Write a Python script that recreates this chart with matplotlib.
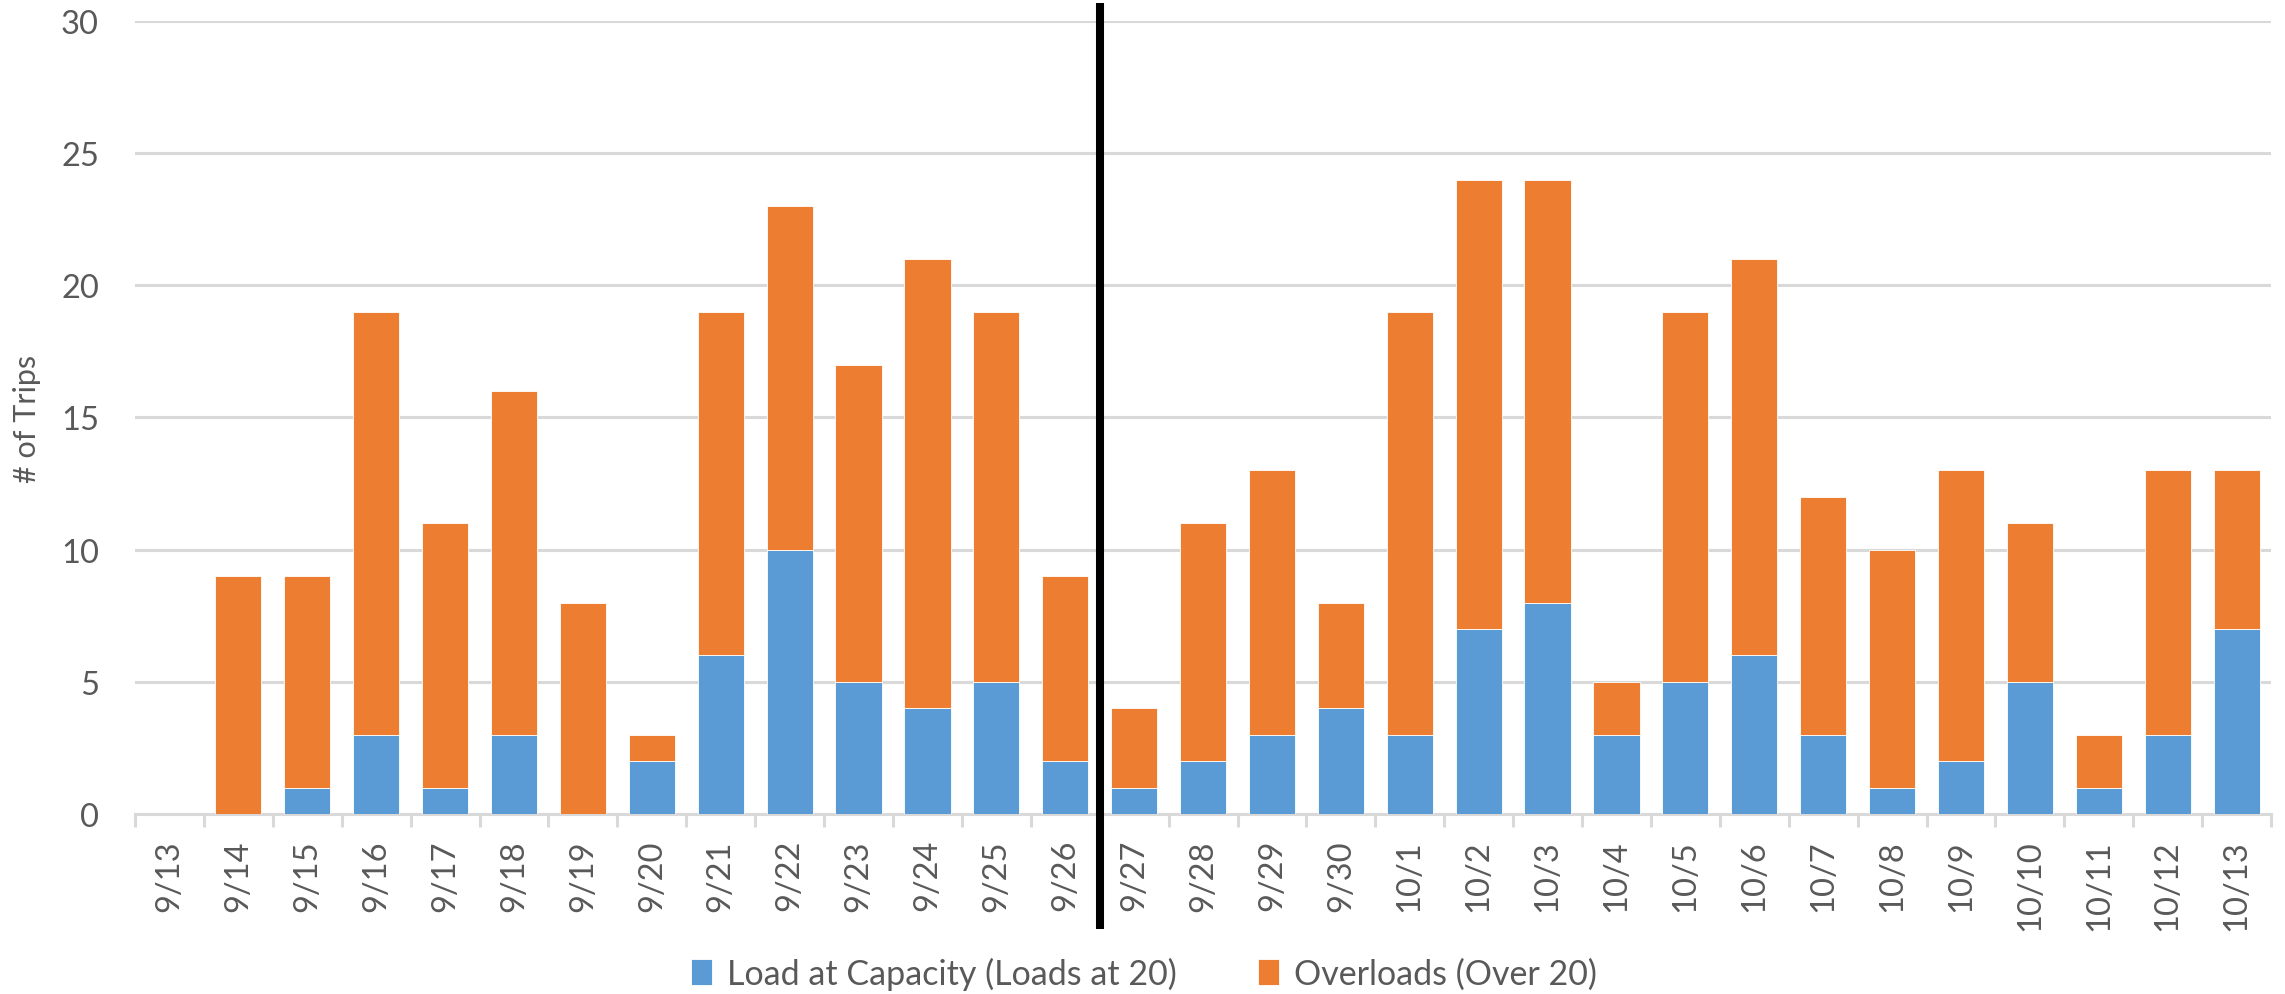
import matplotlib
matplotlib.use("Agg")
import matplotlib.pyplot as plt
from matplotlib.lines import Line2D
from matplotlib.transforms import blended_transform_factory
import numpy as np

plt.rcParams['font.family'] = ['Lato', 'DejaVu Sans']

dates = ["9/13", "9/14", "9/15", "9/16", "9/17", "9/18", "9/19", "9/20", "9/21",
         "9/22", "9/23", "9/24", "9/25", "9/26", "9/27", "9/28", "9/29", "9/30",
         "10/1", "10/2", "10/3", "10/4", "10/5", "10/6", "10/7", "10/8", "10/9",
         "10/10", "10/11", "10/12", "10/13"]
at_capacity = [0, 0, 1, 3, 1, 3, 0, 2, 6, 10, 5, 4, 5, 2, 1, 2, 3, 4,
               3, 7, 8, 3, 5, 6, 3, 1, 2, 5, 1, 3, 7]
overloads = [0, 9, 8, 16, 10, 13, 8, 1, 13, 13, 12, 17, 14, 7, 3, 9, 10, 4,
             16, 17, 16, 2, 14, 15, 9, 9, 11, 6, 2, 10, 6]
y_ticks = [0, 5, 10, 15, 20, 25, 30]
divider_after = "9/26"

blue = "#5B9BD5"
orange = "#ED7D31"
grid_c = "#D9D9D9"
text_c = "#595959"

fig = plt.figure(figsize=(22.85, 9.95), dpi=100)
ax = fig.add_axes([0.0591, 0.1809, 0.9348, 0.797])

x = np.arange(len(dates))
w = 0.67
ax.bar(x, at_capacity, w, color=blue, edgecolor="white", linewidth=0.6,
       label="Load at Capacity (Loads at 20)", zorder=3)
ax.bar(x, overloads, w, bottom=at_capacity, color=orange, edgecolor="white",
       linewidth=0.6, label="Overloads (Over 20)", zorder=3)

ax.set_xlim(-0.5, len(dates) - 0.5)
ax.set_ylim(0, 30)
ax.set_yticks(y_ticks)
ax.yaxis.grid(True, color=grid_c, linewidth=2.2)
ax.set_axisbelow(True)
for s in ["top", "right", "left"]:
    ax.spines[s].set_visible(False)
ax.spines["bottom"].set_color(grid_c)
ax.spines["bottom"].set_linewidth(2.2)

ax.set_xticks(x)
ax.set_xticklabels(dates, rotation=90)
ax.set_xticks(np.arange(-0.5, len(dates)), minor=True)
ax.tick_params(axis="x", which="major", length=0, pad=18, labelsize=23.5,
               labelcolor=text_c)
ax.tick_params(axis="x", which="minor", length=9, width=2.2, color=grid_c)
ax.tick_params(axis="y", length=0, pad=26, labelsize=23.5, labelcolor=text_c)

ax.set_ylabel("# of Trips", fontsize=22, color=text_c)
ax.yaxis.set_label_coords(-0.044, 0.5)

# Divider line between the two periods
xd = dates.index(divider_after) + 0.5
trans = blended_transform_factory(ax.transData, fig.transFigure)
fig.add_artist(Line2D([xd, xd], [1 - 4 / 995, 1 - 930 / 995], transform=trans,
                      color="black", linewidth=5.8, solid_capstyle="butt"))

leg = fig.legend(loc="center", bbox_to_anchor=(0.5007, 0.021), ncol=2,
                 frameon=False, fontsize=24.5, handlelength=0.6, handleheight=0.8,
                 handletextpad=0.45, columnspacing=2.4)
for t in leg.get_texts():
    t.set_color(text_c)

fig.savefig("out.png", dpi=100, facecolor="white")
